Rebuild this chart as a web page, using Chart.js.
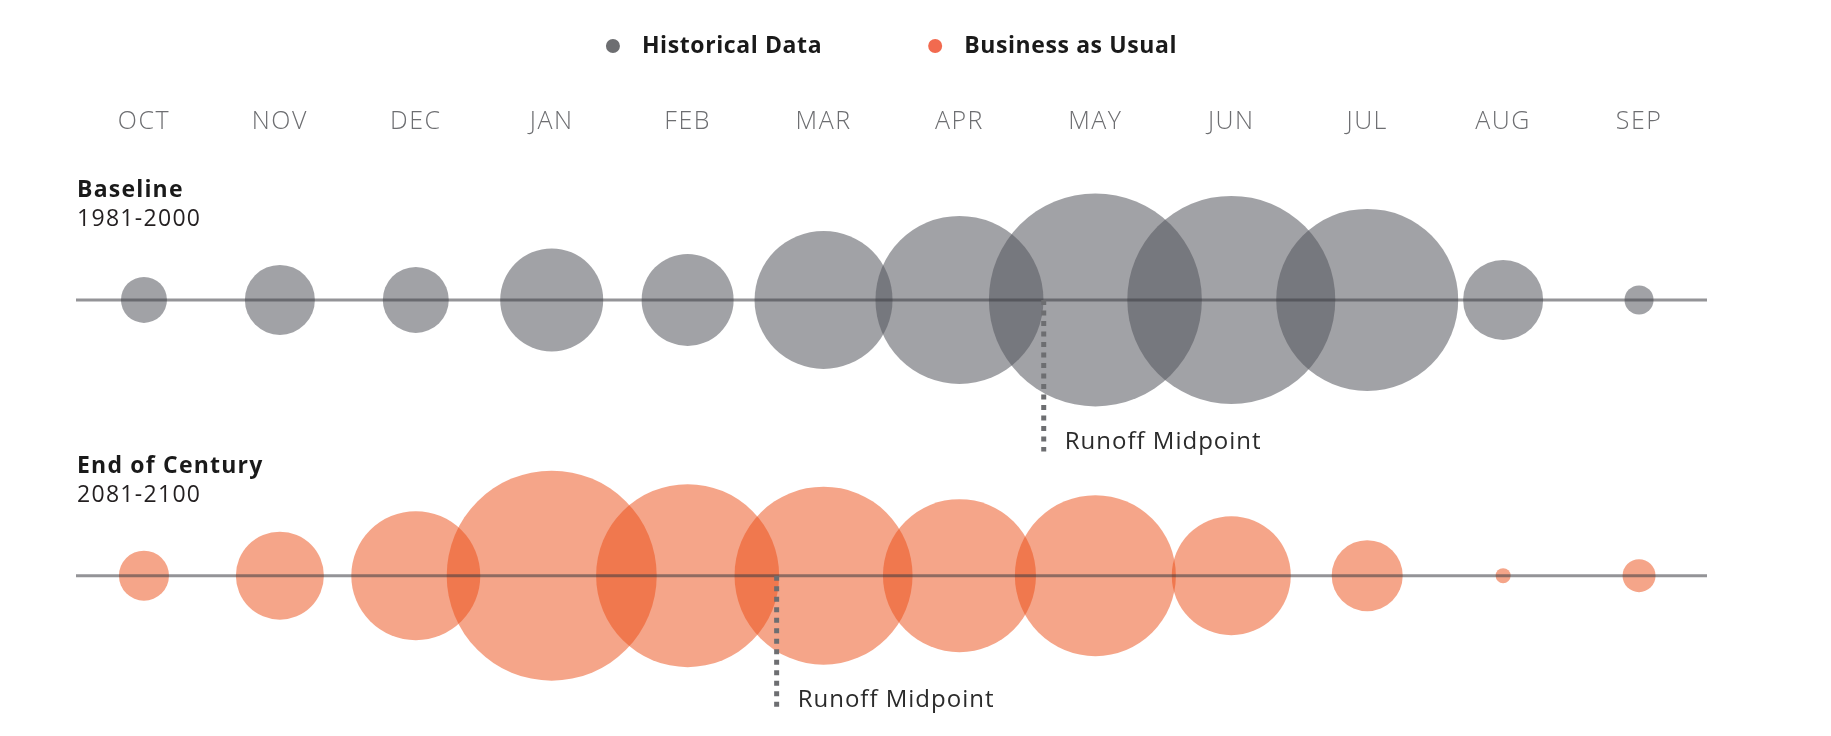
<!DOCTYPE html>
<html>
<head>
<meta charset="utf-8">
<title>Runoff timing</title>
<script src="https://cdn.jsdelivr.net/npm/chart.js@4.4.1/dist/chart.umd.min.js"></script>
<style>
  html, body { margin: 0; padding: 0; background: #fff; }
</style>
</head>
<body>
<canvas id="runoffChart" width="1831" height="736"></canvas>
<script>
// water year months, Oct -> Sep
const months = ['OCT', 'NOV', 'DEC', 'JAN', 'FEB', 'MAR', 'APR', 'MAY', 'JUN', 'JUL', 'AUG', 'SEP'];

// monthly runoff shown as bubble size (radius)
const baselineRunoff = [23, 35, 33, 51.5, 46, 69, 84, 106.5, 104, 91, 40, 14.5];
const centuryRunoff  = [25, 44, 64.5, 105, 91.5, 89, 76.5, 80.5, 59.5, 35.5, 7.5, 16.5];

// runoff midpoint, in month units (0 = OCT)
const baselineMidpoint = 6.62;
const centuryMidpoint = 4.655;

const seriesNames = ['Historical Data', 'Business as Usual'];
const rowNames = ['Baseline', 'End of Century'];
const rowYears = ['1981-2000', '2081-2100'];

// rows on the y scale
const ROW_BASE = 1, ROW_END = 0;
// how far the dashed midpoint marker hangs below its row (style only)
const dropBase = 0.55, dropEnd = 0.487;

const FONT = '"Open Sans", "Noto Sans", sans-serif';
const GREY = '#6d6e71', ORANGE = '#f26a4f';

const toBubbles = (sizes, row) => sizes.map((r, i) => ({ x: i, y: row, r: r }));
const rowLine = row => [{ x: -0.5, y: row }, { x: months.length - 0.5, y: row }];
const dropLine = (mid, row, drop) => [{ x: mid, y: row }, { x: mid, y: row - drop }];

const lineStyle = { type: 'line', borderColor: 'rgba(60,61,65,0.55)', borderWidth: 3, pointRadius: 0, fill: false, order: 1 };
const dashStyle = { type: 'line', borderColor: GREY, borderWidth: 5, borderDash: [5, 5.5], pointRadius: 0, fill: false, order: 0 };

// the month labels are set a bit wider, like the original typeface
const spacing = {
  id: 'spacing',
  beforeDraw(chart) { chart.ctx.letterSpacing = '1.5px'; },
  beforeDatasetsDraw(chart) { chart.ctx.letterSpacing = '0px'; }
};

// titles, legend and midpoint notes
const annotations = {
  id: 'annotations',
  afterDatasetsDraw(chart) {
    const { ctx, chartArea, scales } = chart;
    const x = scales.x, y = scales.y;
    ctx.save();

    // legend
    ctx.font = 'bold 23px ' + FONT;
    ctx.letterSpacing = '0.6px';
    ctx.textBaseline = 'middle';
    const dotR = 7, dotGap = 36, itemGap = 106;
    const widths = seriesNames.map(n => ctx.measureText(n).width);
    const total = widths.reduce((s, w) => s + w + dotGap, 0) + itemGap;
    let lx = (chartArea.left + chartArea.right) / 2 - total / 2;
    const ly = 46;
    [GREY, ORANGE].forEach((c, i) => {
      ctx.fillStyle = c;
      ctx.beginPath();
      ctx.arc(lx + dotR, ly, dotR, 0, Math.PI * 2);
      ctx.fill();
      ctx.fillStyle = '#1a1a1a';
      ctx.textAlign = 'left';
      ctx.fillText(seriesNames[i], lx + dotGap, ly);
      lx += dotGap + widths[i] + itemGap;
    });

    // row titles
    ctx.textBaseline = 'alphabetic';
    [ROW_BASE, ROW_END].forEach((row, i) => {
      const py = y.getPixelForValue(row);
      ctx.fillStyle = '#1a1a1a';
      ctx.font = 'bold 23px ' + FONT;
      ctx.letterSpacing = '1.2px';
      ctx.fillText(rowNames[i], chartArea.left + 1, py - 103);
      ctx.fillStyle = '#231f20';
      ctx.font = '23px ' + FONT;
      ctx.letterSpacing = '1.3px';
      ctx.fillText(rowYears[i], chartArea.left + 1, py - 74);
    });

    // midpoint notes
    ctx.font = '24px ' + FONT;
    ctx.letterSpacing = '1px';
    ctx.fillStyle = '#2b2b2b';
    ctx.textBaseline = 'middle';
    [[baselineMidpoint, ROW_BASE - dropBase], [centuryMidpoint, ROW_END - dropEnd]].forEach(([m, v]) => {
      ctx.fillText('Runoff Midpoint', x.getPixelForValue(m) + 21, y.getPixelForValue(v) - 9.5);
    });
    ctx.restore();
  }
};

new Chart(document.getElementById('runoffChart'), {
  type: 'bubble',
  data: {
    datasets: [
      Object.assign({ label: 'dash-base', data: dropLine(baselineMidpoint, ROW_BASE, dropBase) }, dashStyle),
      Object.assign({ label: 'dash-end', data: dropLine(centuryMidpoint, ROW_END, dropEnd) }, dashStyle),
      Object.assign({ label: 'line-base', data: rowLine(ROW_BASE) }, lineStyle),
      Object.assign({ label: 'line-end', data: rowLine(ROW_END) }, lineStyle),
      {
        label: seriesNames[0],
        data: toBubbles(baselineRunoff, ROW_BASE),
        backgroundColor: 'rgba(83,86,92,0.55)',
        borderWidth: 0,
        order: 2
      },
      {
        label: seriesNames[1],
        data: toBubbles(centuryRunoff, ROW_END),
        backgroundColor: 'rgba(236,76,20,0.5)',
        borderWidth: 0,
        order: 2
      }
    ]
  },
  options: {
    responsive: false,
    animation: false,
    events: [],
    layout: { autoPadding: false, padding: { top: 0, left: 76, right: 124, bottom: 22.5 } },
    plugins: { legend: { display: false }, tooltip: { enabled: false } },
    scales: {
      x: {
        type: 'linear',
        position: 'top',
        min: -0.5,
        max: months.length - 0.5,
        grid: { display: false },
        border: { display: false },
        afterBuildTicks: scale => { scale.ticks = months.map((m, i) => ({ value: i })); },
        afterFit: scale => { scale.height = 162; },
        ticks: {
          autoSkip: false,
          maxRotation: 0,
          padding: 17,
          color: GREY,
          font: { family: FONT, size: 25, weight: '300' },
          callback: v => months[v]
        }
      },
      y: {
        type: 'linear',
        display: false,
        min: -0.5,
        max: 1.5
      }
    }
  },
  plugins: [spacing, annotations]
});
</script>
</body>
</html>
